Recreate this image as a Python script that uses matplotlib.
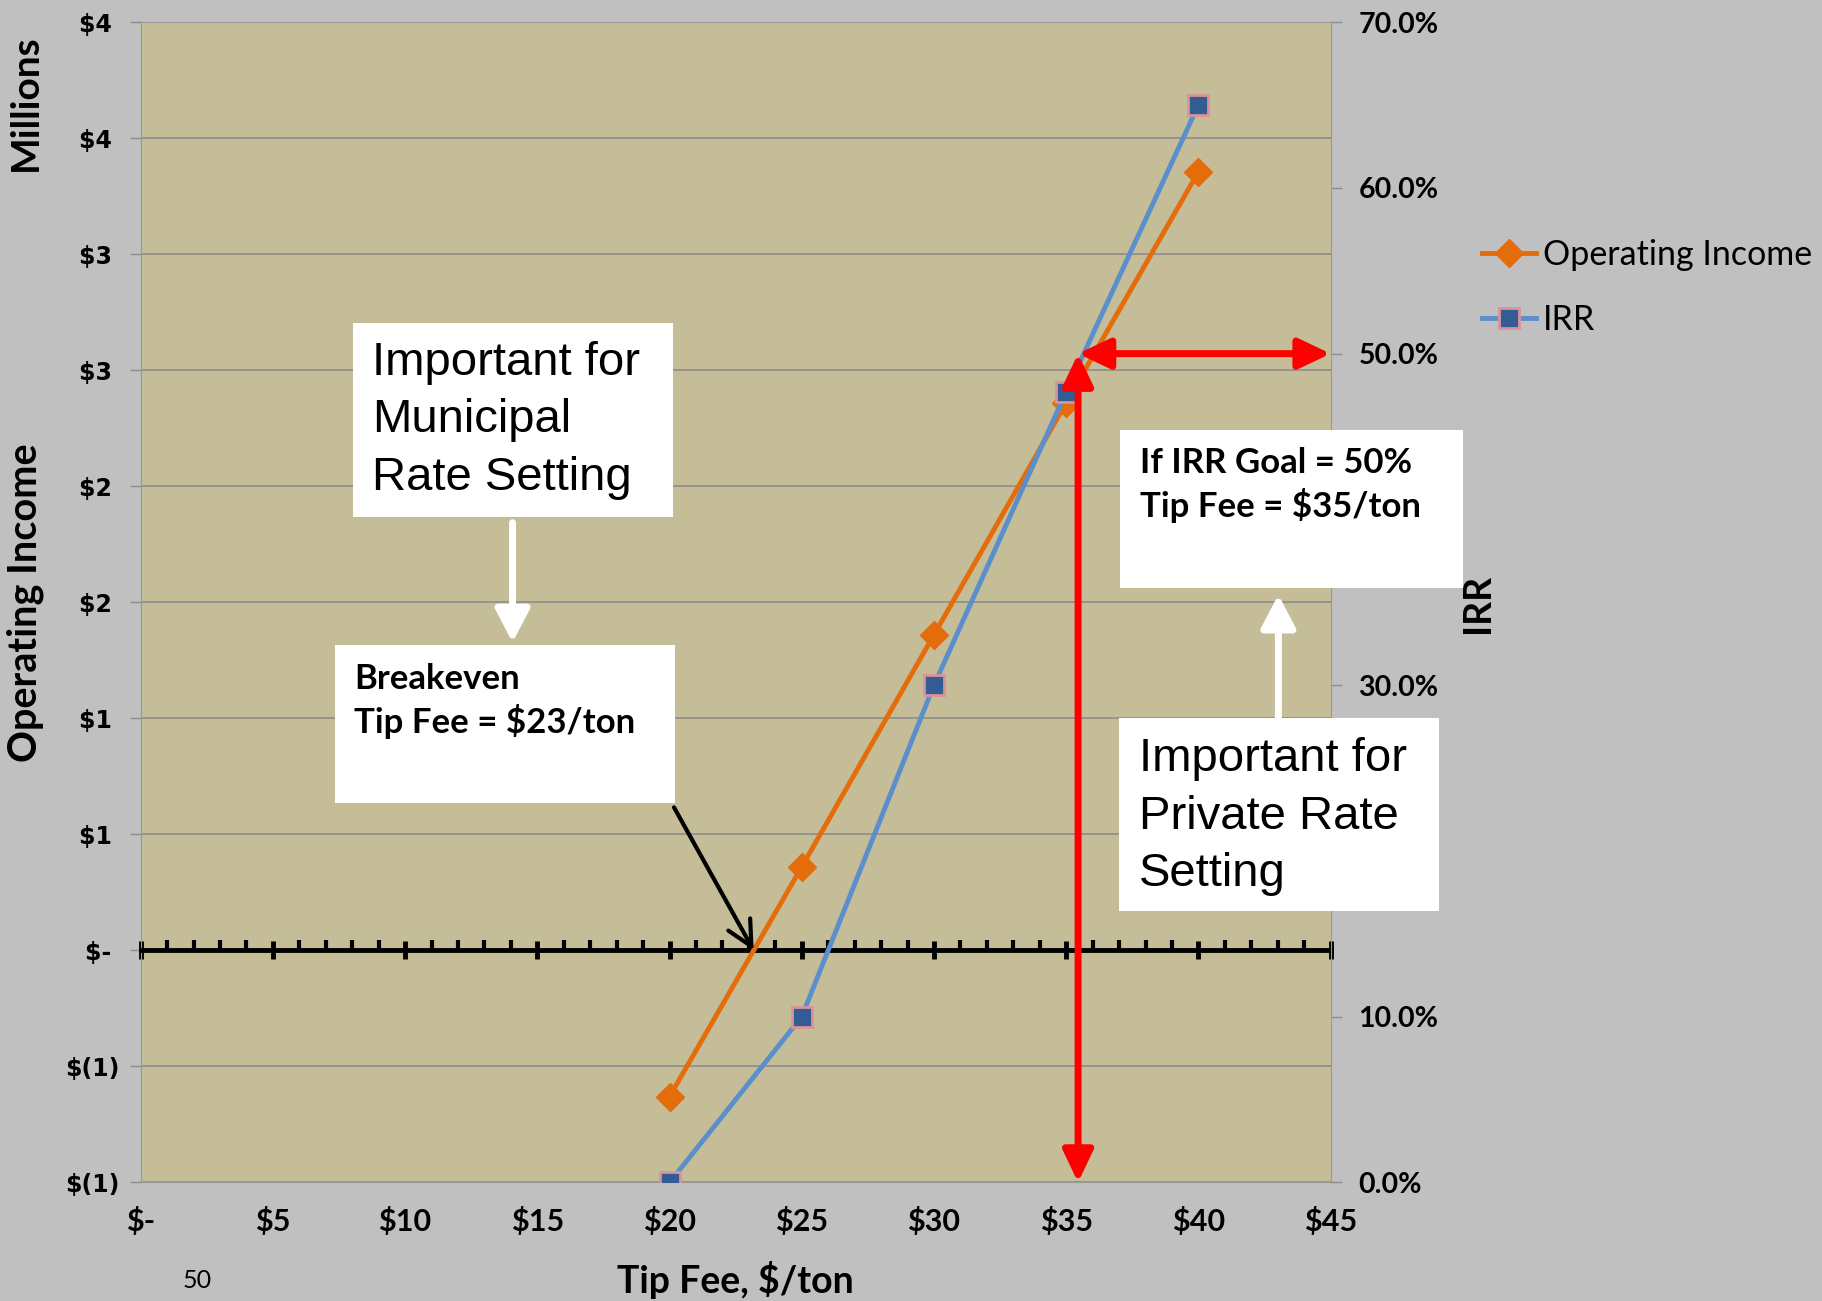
import numpy as np
import matplotlib
matplotlib.use('Agg')
import matplotlib.pyplot as plt
from matplotlib.patches import Rectangle
from matplotlib.lines import Line2D

plt.rcParams['font.family'] = ['Lato', 'DejaVu Sans']

# values
tip_fee = [20, 25, 30, 35, 40]
operating_income = [-0.63, 0.36, 1.36, 2.36, 3.355]   # $ millions
irr = [0.0, 0.10, 0.30, 0.477, 0.650]

x_ticks = [0, 5, 10, 15, 20, 25, 30, 35, 40, 45]
x_labels = ['$-', '$5', '$10', '$15', '$20', '$25', '$30', '$35', '$40', '$45']
oi_ticks = [-1.0, -0.5, 0.0, 0.5, 1.0, 1.5, 2.0, 2.5, 3.0, 3.5, 4.0]
oi_labels = ['$(1)', '$(1)', '$- ', '$1 ', '$1 ', '$2 ', '$2 ', '$3 ', '$3 ', '$4 ', '$4 ']
irr_ticks = [0.0, 0.1, 0.2, 0.3, 0.4, 0.5, 0.6, 0.7]
# 20% and 40% sit under the white boxes in the original
irr_labels = ['0.0%', '10.0%', '', '30.0%', '', '50.0%', '60.0%', '70.0%']

irr_goal = 0.50
goal_fee = 35.45   # where the red guide is drawn

orange = '#E46C0A'
blue = '#5B8FCB'
grey = '#8C8C8C'

fig = plt.figure(figsize=(18.22, 13.01), dpi=100, facecolor='#C0C0C0')
ax = fig.add_axes([0.0772, 0.0911, 0.6531, 0.8919])
ax.set_facecolor('#C4BD97')
ax2 = ax.twinx()
ax2.patch.set_visible(False)

ax.set_xlim(0, 45)
ax.set_ylim(-1, 4)
ax2.set_ylim(0, 0.7)

# grid at left axis ticks
ax.set_yticks(oi_ticks, labels=oi_labels, fontfamily='DejaVu Sans', fontweight='bold', fontsize=17)
ax.yaxis.grid(True, color=grey, lw=1.2)
ax.set_axisbelow(True)
ax.tick_params(axis='y', direction='out', length=8, color=grey, width=1, pad=7)

# x axis drawn at zero
ax.spines['bottom'].set_position(('data', 0))
ax.spines['bottom'].set_color('black')
ax.spines['bottom'].set_linewidth(3.5)
ax.spines['bottom'].set_zorder(3)
ax.set_xticks(x_ticks)
ax.set_xticks(np.arange(0, 46, 1), minor=True)
ax.tick_params(axis='x', which='major', direction='inout', length=13, width=3.5, color='black', labelbottom=False)
ax.tick_params(axis='x', which='minor', direction='in', length=7, width=3, color='black')
ax.spines['top'].set_visible(False)
ax.spines['right'].set_visible(False)
ax.spines['left'].set_color('#999999')

sec = ax.secondary_xaxis('bottom')
sec.set_xticks(x_ticks, labels=x_labels, fontweight='bold', fontsize=22)
sec.tick_params(length=0, pad=18)
sec.spines['bottom'].set_color('#999999')

ax2.set_yticks(irr_ticks, labels=irr_labels, fontweight='bold', fontsize=20.5)
ax2.tick_params(axis='y', direction='out', length=8, color=grey, width=1, pad=12)
for s in ['top', 'bottom', 'left']:
    ax2.spines[s].set_visible(False)
ax2.spines['right'].set_color('#999999')

ax.plot(tip_fee, operating_income, color=orange, lw=3.5, marker='D', ms=14, mfc=orange, mec=orange,
        zorder=4, label='Operating Income')
ax2.plot(tip_fee, irr, color=blue, lw=3.5, marker='s', ms=14, mfc='#335C94', mec='#D9939A', mew=2,
         zorder=4, label='IRR')

# red guides for the IRR goal
red_style = '<|-|>,head_length=0.8,head_width=0.38'
ax2.annotate('', xy=(goal_fee, 0), xytext=(goal_fee, irr_goal),
             arrowprops=dict(arrowstyle=red_style, color='red', lw=5,
                             mutation_scale=24, shrinkA=0, shrinkB=0),
             annotation_clip=False, zorder=5)
ax2.annotate('', xy=(45, irr_goal), xytext=(goal_fee, irr_goal),
             arrowprops=dict(arrowstyle=red_style, color='red', lw=5,
                             mutation_scale=24, shrinkA=0, shrinkB=0),
             annotation_clip=False, zorder=5)

# breakeven tip fee from the data
breakeven = np.interp(0, operating_income, tip_fee)

# white boxes: (x0, y0, x1, y1) in axes fraction
boxes = [(0.1787, 0.5736, 0.4473, 0.7407),
         (0.1631, 0.3273, 0.4492, 0.4635),
         (0.8232, 0.5125, 1.1113, 0.6486),
         (0.8223, 0.2342, 1.0908, 0.4004)]
for x0, y0, x1, y1 in boxes:
    ax2.add_patch(Rectangle((x0, y0), x1 - x0, y1 - y0, transform=ax2.transAxes, facecolor='white',
                            edgecolor='none', clip_on=False, zorder=6))

ax2.text(0.1943, 0.6567, 'Important for\nMunicipal\nRate Setting', transform=ax2.transAxes,
         fontfamily='Liberation Sans', fontsize=34, va='center', ha='left', linespacing=1.4, zorder=7)
ax2.text(0.8389, 0.3153, 'Important for\nPrivate Rate\nSetting', transform=ax2.transAxes,
         fontfamily='Liberation Sans', fontsize=34, va='center', ha='left', linespacing=1.4, zorder=7)
ax2.text(0.1797, 0.4149, 'Breakeven\nTip Fee = $23/ton', transform=ax2.transAxes,
         fontweight='bold', fontsize=25, va='center', ha='left', linespacing=1.33, zorder=7)
ax2.text(0.8398, 0.6011, 'If IRR Goal = 50%\nTip Fee = $35/ton', transform=ax2.transAxes,
         fontweight='bold', fontsize=25, va='center', ha='left', linespacing=1.33, zorder=7)

# white arrows between boxes
white_style = '-|>,head_length=0.8,head_width=0.42'
ax2.annotate('', xy=(0.3125, 0.4655), xytext=(0.3125, 0.5686), xycoords='axes fraction',
             arrowprops=dict(arrowstyle=white_style, color='white', lw=5,
                             mutation_scale=25, shrinkA=0, shrinkB=0), zorder=7)
ax2.annotate('', xy=(0.9561, 0.5065), xytext=(0.9561, 0.4004), xycoords='axes fraction',
             arrowprops=dict(arrowstyle=white_style, color='white', lw=5,
                             mutation_scale=25, shrinkA=0, shrinkB=0), zorder=7)

# black arrow to the breakeven point
ax2.annotate('', xy=(breakeven, 0), xycoords=ax.transData, xytext=(0.4482, 0.3233),
             textcoords='axes fraction',
             arrowprops=dict(arrowstyle='->,head_length=0.6,head_width=0.3', color='black', lw=3,
                             mutation_scale=30, shrinkA=0, shrinkB=0), zorder=7)

# axis titles
fig.text(0.014, 0.921, 'Millions', rotation=90, fontweight='bold', fontsize=28, ha='center', va='center')
fig.text(0.014, 0.537, 'Operating Income', rotation=90, fontweight='bold', fontsize=28.5, ha='center', va='center')
fig.text(0.811, 0.536, 'IRR', rotation=90, fontweight='bold', fontsize=27, ha='center', va='center')
fig.text(0.4035, 0.0165, 'Tip Fee, $/ton', fontweight='bold', fontsize=27, ha='center', va='center')
fig.text(0.1084, 0.0154, '50', fontsize=18, ha='center', va='center')

handles = [Line2D([], [], color=orange, lw=3.5, marker='D', ms=14, mfc=orange, mec=orange),
           Line2D([], [], color=blue, lw=3.5, marker='s', ms=14, mfc='#335C94', mec='#D9939A', mew=2)]
fig.legend(handles, ['Operating Income', 'IRR'], loc='center left', bbox_to_anchor=(0.8134, 0.779),
           frameon=False, fontsize=24.5, handlelength=1.6, handletextpad=0.2, labelspacing=0.95,
           borderpad=0, borderaxespad=0)

fig.savefig('out.png', dpi=100, facecolor=fig.get_facecolor())
